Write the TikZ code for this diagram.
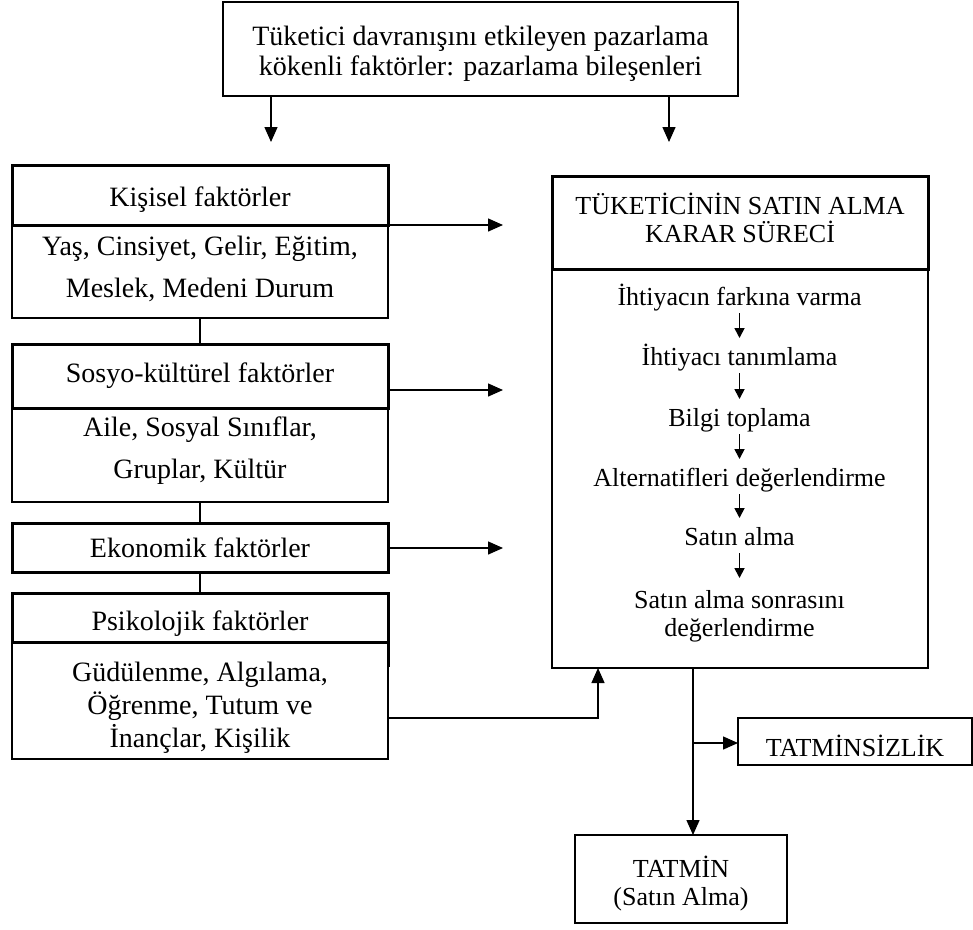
\documentclass[tikz,border=0pt]{standalone}
\usepackage{fontspec}
\setmainfont{Liberation Serif}
\usetikzlibrary{arrows.meta}
\begin{document}
\begin{tikzpicture}[x=1pt,y=-1pt,
  box/.style={draw, rectangle, inner sep=0pt, outer sep=0pt, anchor=north west, line width=1.4pt},
  thickbox/.style={box, line width=3pt},
  txt/.style={inner sep=0pt, outer sep=0pt, align=center},
  big/.style={txt, font=\fontsize{28}{30}\selectfont},
  bigw/.style={txt, font=\fontsize{28}{42}\selectfont},
  bigp/.style={txt, font=\fontsize{28}{33}\selectfont},
  mid/.style={txt, font=\fontsize{26}{28}\selectfont},
  stepnode/.style={mid, text height=17pt, text depth=7pt},
  conn/.style={line width=1.4pt},
  arr/.style={line width=1.4pt, -{Triangle[length=15pt,width=13pt]}},
  sarr/.style={line width=1.7pt, -{Triangle[length=10pt,width=10pt]}, shorten <=1pt, shorten >=10pt},
]
\useasboundingbox (0,0) rectangle (973,929);

% top box
\node[box, minimum width=515pt, minimum height=94pt] (top) at (223,2) {};
\node[big] (topT) at ([yshift=-5pt]top.center)
  {Tüketici davranışını etkileyen pazarlama\\kökenli faktörler: pazarlama bileşenleri};
\coordinate (ta1) at (271,142);
\coordinate (ta2) at (669,142);
\draw[arr] (top.south -| ta1) -- (ta1);
\draw[arr] (top.south -| ta2) -- (ta2);

% left column
\node[box, minimum width=376pt, minimum height=93pt] (kb) at (12,225) {};
\node[thickbox, minimum width=376pt, minimum height=60pt] (kh) at (12,165) {};
\node[big] (khT) at ([yshift=-5pt]kh.center) {Kişisel faktörler};
\node[bigw] (kbT) at ([yshift=3pt]kb.center) {Yaş, Cinsiyet, Gelir, Eğitim,\\Meslek, Medeni Durum};

\node[box, minimum width=376pt, minimum height=94pt] (sb) at (12,408) {};
\node[thickbox, minimum width=376pt, minimum height=64pt] (sh) at (12,344) {};
\node[big] (shT) at (sh.center) {Sosyo-kültürel faktörler};
\node[bigw] (sbT) at ([yshift=4pt]sb.center) {Aile, Sosyal Sınıflar,\\Gruplar, Kültür};

\node[thickbox, minimum width=376pt, minimum height=49pt] (eh) at (12,523) {};
\node[big] (ehT) at (eh.center) {Ekonomik faktörler};

\node[box, minimum width=376pt, minimum height=117pt] (pb) at (12,642) {};
\node[thickbox, minimum width=376pt, minimum height=49pt] (ph) at (12,593) {};
\draw[line width=3pt] (ph.south east) -- ++(0,25);
\node[big] (phT) at ([yshift=-6pt]ph.center) {Psikolojik faktörler};
\node[bigp] (pbT) at ([yshift=-7pt]pb.center) {Güdülenme, Algılama,\\Öğrenme, Tutum ve\\İnançlar, Kişilik};

\draw[conn] (kb.south) -- (sh.north);
\draw[conn] (sb.south) -- (eh.north);
\draw[conn] (eh.south) -- (ph.north);

% right box
\node[box, minimum width=376pt, minimum height=399pt] (rb) at (552,269) {};
\node[thickbox, minimum width=376pt, minimum height=93pt] (rh) at (552,176) {};
\node[mid] (rhT) at ([yshift=5pt]rh.center) {TÜKETİCİNİN SATIN ALMA\\KARAR SÜRECİ};

\node[stepnode] (s1) at (739.5,300) {İhtiyacın farkına varma};
\node[stepnode] (s2) at (739.5,360) {İhtiyacı tanımlama};
\node[stepnode] (s3) at (739.5,421) {Bilgi toplama};
\node[stepnode] (s4) at (739.5,481) {Alternatifleri değerlendirme};
\node[stepnode] (s5) at (739.5,540) {Satın alma};
\node[mid, anchor=north] (s6) at (739.5,590)
  {Satın alma sonrasını\\değerlendirme};
\draw[sarr] (s1.south) -- (s2.north);
\draw[sarr] (s2.south) -- (s3.north);
\draw[sarr] (s3.south) -- (s4.north);
\draw[sarr] (s4.south) -- (s5.north);
\draw[sarr, shorten >=12pt] (s5.south) -- (s6.north);

% left -> right arrows
\coordinate (r1) at (503,225);
\coordinate (r2) at (503,390);
\coordinate (r3) at (503,548);
\draw[arr] (r1 -| kh.east) -- (r1);
\draw[arr] (r2 -| sh.east) -- (r2);
\draw[arr] (r3 -| eh.east) -- (r3);
\coordinate (pc) at (598,718);
\draw[arr] (pc -| pb.east) -- (pc) -- (pc |- rb.south);

% outcomes
\node[box, minimum width=234pt, minimum height=47pt] (tz) at (738,718) {};
\node[mid] (tzT) at ([yshift=-4pt]tz.center) {TATMİNSİZLİK};
\node[box, minimum width=212pt, minimum height=88pt] (tm) at (575,835) {};
\node[mid] (tmT) at ([yshift=-5pt]tm.center) {TATMİN\\(Satın Alma)};
\coordinate (dx) at (693,743);
\draw[arr] (dx |- rb.south) -- (dx |- tm.north);
\draw[arr] (dx) -- (dx -| tz.west);
\end{tikzpicture}
\end{document}
